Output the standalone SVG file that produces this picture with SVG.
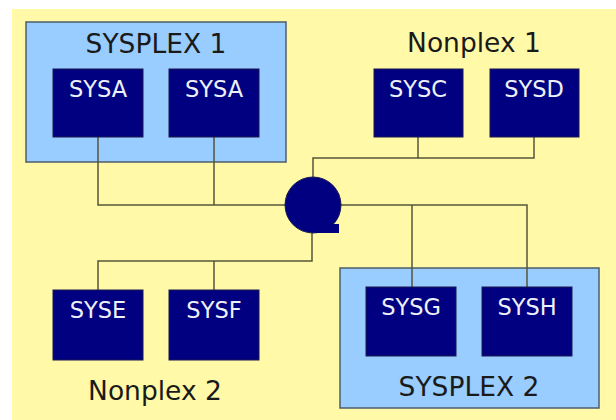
<svg xmlns="http://www.w3.org/2000/svg" width="616" height="420" viewBox="0 0 616 420">
  <style>
    .plex { fill: #99ccff; stroke: #4f5d6b; stroke-width: 1.5; }
    .sys { fill: #000080; stroke: #1a1a50; stroke-width: 1; }
    .sys-label { font-family: "DejaVu Sans", Verdana, sans-serif; font-size: 22.5px; fill: #eef0f8; text-anchor: middle; }
    .group-label { font-family: "DejaVu Sans", Verdana, sans-serif; font-size: 26.5px; fill: #1a1a1a; text-anchor: middle; }
    .link { fill: none; stroke: #55553a; stroke-width: 1.5; }
  </style>

  <!-- page background -->
  <rect x="0" y="0" width="616" height="420" fill="#ffffff"/>
  <rect x="12" y="9" width="604" height="411" fill="#fff9a8"/>

  <!-- container boxes -->
  <g id="sysplex1">
    <rect class="plex" x="26" y="22" width="260" height="140"/>
    <text class="group-label" x="156" y="53">SYSPLEX 1</text>
  </g>
  <g id="nonplex1">
    <text class="group-label" x="474" y="52">Nonplex 1</text>
  </g>
  <g id="nonplex2">
    <text class="group-label" x="155" y="400">Nonplex 2</text>
  </g>
  <g id="sysplex2">
    <rect class="plex" x="340" y="268" width="259" height="140"/>
    <text class="group-label" x="469" y="396">SYSPLEX 2</text>
  </g>

  <!-- connectors -->
  <g id="connectors">
    <polyline class="link" points="98,137 98,205 214,205"/>
    <line class="link" x1="214" y1="137" x2="214" y2="205"/>
    <line class="link" x1="214" y1="205" x2="290" y2="205"/>
    <polyline class="link" points="418,137 418,158 313,158 313,180"/>
    <polyline class="link" points="534,137 534,158 418,158"/>
    <polyline class="link" points="335,205 527,205 527,287"/>
    <line class="link" x1="412" y1="205" x2="412" y2="287"/>
    <polyline class="link" points="312,230 312,261 98,261 98,290"/>
    <line class="link" x1="214" y1="261" x2="214" y2="290"/>
  </g>

  <!-- queue hub -->
  <g id="hub">
    <circle cx="313" cy="205" r="28" fill="#000080" stroke="#1a1a50" stroke-width="1"/>
    <polygon points="313,233 339,233 339,224 333,224 320,231" fill="#000080"/>
  </g>

  <!-- systems -->
  <g id="sysa-1">
    <rect class="sys" x="53" y="69" width="90" height="68"/>
    <text class="sys-label" x="98" y="97">SYSA</text>
  </g>
  <g id="sysa-2">
    <rect class="sys" x="169" y="69" width="90" height="68"/>
    <text class="sys-label" x="214" y="97">SYSA</text>
  </g>
  <g id="sysc">
    <rect class="sys" x="374" y="69" width="89" height="68"/>
    <text class="sys-label" x="418" y="97">SYSC</text>
  </g>
  <g id="sysd">
    <rect class="sys" x="490" y="69" width="89" height="68"/>
    <text class="sys-label" x="534" y="97">SYSD</text>
  </g>
  <g id="syse">
    <rect class="sys" x="53" y="290" width="90" height="70"/>
    <text class="sys-label" x="98" y="318">SYSE</text>
  </g>
  <g id="sysf">
    <rect class="sys" x="169" y="290" width="90" height="70"/>
    <text class="sys-label" x="214" y="318">SYSF</text>
  </g>
  <g id="sysg">
    <rect class="sys" x="366" y="287" width="90" height="69"/>
    <text class="sys-label" x="411" y="315">SYSG</text>
  </g>
  <g id="sysh">
    <rect class="sys" x="482" y="287" width="90" height="69"/>
    <text class="sys-label" x="527" y="315">SYSH</text>
  </g>
</svg>
